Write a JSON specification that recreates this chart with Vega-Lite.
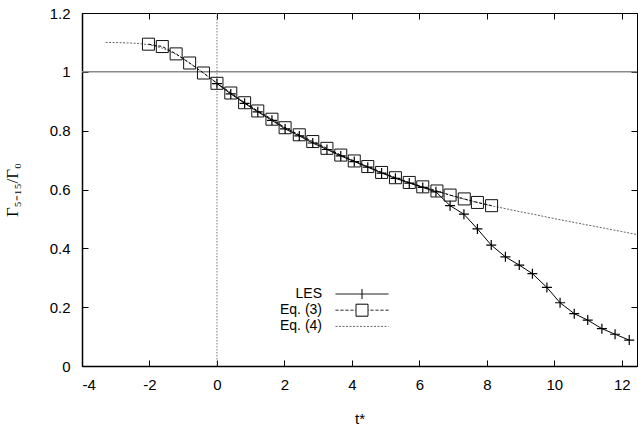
{
  "$schema": "https://vega.github.io/schema/vega-lite/v6.json",
  "width": 555,
  "height": 353,
  "autosize": "none",
  "padding": {"left": 82, "top": 13, "right": 1, "bottom": 67},
  "background": "white",
  "config": {
    "view": {"stroke": "#000", "strokeWidth": 1},
    "font": "Liberation Sans",
    "axis": {"grid": false, "domainColor": "#000", "tickColor": "#000", "labelColor": "#000", "titleColor": "#000", "labelFontSize": 15, "titleFontWeight": "normal", "labelFont": "Liberation Sans", "titleFont": "Liberation Sans", "labelExpr": "'' + datum.value"}
  },
  "datasets": {
    "curves": [
      {"series": "Eq. (4)", "t": -3.3, "v": 1.100},
      {"series": "Eq. (4)", "t": -2.8, "v": 1.099},
      {"series": "Eq. (4)", "t": -2.4, "v": 1.097},
      {"series": "Eq. (4)", "t": -2.0, "v": 1.092},
      {"series": "Eq. (4)", "t": -1.6, "v": 1.080},
      {"series": "Eq. (4)", "t": -1.2, "v": 1.059},
      {"series": "Eq. (4)", "t": -0.8, "v": 1.029},
      {"series": "Eq. (4)", "t": -0.4, "v": 0.996},
      {"series": "Eq. (4)", "t": 0.0, "v": 0.962},
      {"series": "Eq. (4)", "t": 0.4, "v": 0.929},
      {"series": "Eq. (4)", "t": 0.8, "v": 0.897},
      {"series": "Eq. (4)", "t": 1.2, "v": 0.867},
      {"series": "Eq. (4)", "t": 1.6, "v": 0.840},
      {"series": "Eq. (4)", "t": 2.0, "v": 0.812},
      {"series": "Eq. (4)", "t": 2.4, "v": 0.787},
      {"series": "Eq. (4)", "t": 2.8, "v": 0.764},
      {"series": "Eq. (4)", "t": 3.2, "v": 0.742},
      {"series": "Eq. (4)", "t": 3.6, "v": 0.720},
      {"series": "Eq. (4)", "t": 4.0, "v": 0.700},
      {"series": "Eq. (4)", "t": 4.4, "v": 0.681},
      {"series": "Eq. (4)", "t": 4.8, "v": 0.662},
      {"series": "Eq. (4)", "t": 5.2, "v": 0.644},
      {"series": "Eq. (4)", "t": 5.6, "v": 0.628},
      {"series": "Eq. (4)", "t": 6.0, "v": 0.612},
      {"series": "Eq. (4)", "t": 6.4, "v": 0.598},
      {"series": "Eq. (4)", "t": 6.8, "v": 0.584},
      {"series": "Eq. (4)", "t": 7.2, "v": 0.571},
      {"series": "Eq. (4)", "t": 7.6, "v": 0.559},
      {"series": "Eq. (4)", "t": 8.0, "v": 0.548},
      {"series": "Eq. (4)", "t": 8.5, "v": 0.536},
      {"series": "Eq. (4)", "t": 9.0, "v": 0.524},
      {"series": "Eq. (4)", "t": 9.5, "v": 0.513},
      {"series": "Eq. (4)", "t": 10.0, "v": 0.501},
      {"series": "Eq. (4)", "t": 10.5, "v": 0.490},
      {"series": "Eq. (4)", "t": 11.0, "v": 0.479},
      {"series": "Eq. (4)", "t": 11.5, "v": 0.468},
      {"series": "Eq. (4)", "t": 12.0, "v": 0.457},
      {"series": "Eq. (4)", "t": 12.45, "v": 0.447},
      {"series": "Eq. (3)", "t": -2.03, "v": 1.094},
      {"series": "Eq. (3)", "t": -1.62, "v": 1.086},
      {"series": "Eq. (3)", "t": -1.21, "v": 1.061},
      {"series": "Eq. (3)", "t": -0.81, "v": 1.030},
      {"series": "Eq. (3)", "t": -0.40, "v": 0.996},
      {"series": "Eq. (3)", "t": 0.00, "v": 0.961},
      {"series": "Eq. (3)", "t": 0.41, "v": 0.928},
      {"series": "Eq. (3)", "t": 0.82, "v": 0.895},
      {"series": "Eq. (3)", "t": 1.21, "v": 0.867},
      {"series": "Eq. (3)", "t": 1.63, "v": 0.839},
      {"series": "Eq. (3)", "t": 2.02, "v": 0.810},
      {"series": "Eq. (3)", "t": 2.44, "v": 0.786},
      {"series": "Eq. (3)", "t": 2.84, "v": 0.763},
      {"series": "Eq. (3)", "t": 3.26, "v": 0.740},
      {"series": "Eq. (3)", "t": 3.67, "v": 0.717},
      {"series": "Eq. (3)", "t": 4.07, "v": 0.697},
      {"series": "Eq. (3)", "t": 4.47, "v": 0.678},
      {"series": "Eq. (3)", "t": 4.88, "v": 0.658},
      {"series": "Eq. (3)", "t": 5.29, "v": 0.640},
      {"series": "Eq. (3)", "t": 5.70, "v": 0.624},
      {"series": "Eq. (3)", "t": 6.10, "v": 0.609},
      {"series": "Eq. (3)", "t": 6.52, "v": 0.595},
      {"series": "Eq. (3)", "t": 6.91, "v": 0.581},
      {"series": "Eq. (3)", "t": 7.33, "v": 0.568},
      {"series": "Eq. (3)", "t": 7.72, "v": 0.556},
      {"series": "Eq. (3)", "t": 8.14, "v": 0.545},
      {"series": "LES", "t": 0.00, "v": 0.960},
      {"series": "LES", "t": 0.41, "v": 0.925},
      {"series": "LES", "t": 0.82, "v": 0.893},
      {"series": "LES", "t": 1.21, "v": 0.864},
      {"series": "LES", "t": 1.63, "v": 0.835},
      {"series": "LES", "t": 2.02, "v": 0.806},
      {"series": "LES", "t": 2.44, "v": 0.782},
      {"series": "LES", "t": 2.84, "v": 0.758},
      {"series": "LES", "t": 3.26, "v": 0.736},
      {"series": "LES", "t": 3.67, "v": 0.714},
      {"series": "LES", "t": 4.07, "v": 0.695},
      {"series": "LES", "t": 4.47, "v": 0.676},
      {"series": "LES", "t": 4.88, "v": 0.656},
      {"series": "LES", "t": 5.29, "v": 0.638},
      {"series": "LES", "t": 5.70, "v": 0.622},
      {"series": "LES", "t": 6.10, "v": 0.607},
      {"series": "LES", "t": 6.49, "v": 0.592},
      {"series": "LES", "t": 6.91, "v": 0.545},
      {"series": "LES", "t": 7.32, "v": 0.516},
      {"series": "LES", "t": 7.72, "v": 0.466},
      {"series": "LES", "t": 8.13, "v": 0.411},
      {"series": "LES", "t": 8.55, "v": 0.371},
      {"series": "LES", "t": 8.96, "v": 0.343},
      {"series": "LES", "t": 9.35, "v": 0.314},
      {"series": "LES", "t": 9.78, "v": 0.267},
      {"series": "LES", "t": 10.17, "v": 0.215},
      {"series": "LES", "t": 10.59, "v": 0.178},
      {"series": "LES", "t": 10.99, "v": 0.156},
      {"series": "LES", "t": 11.41, "v": 0.127},
      {"series": "LES", "t": 11.80, "v": 0.108},
      {"series": "LES", "t": 12.22, "v": 0.088}
    ]
  },
  "resolve": {"axis": {"x": "independent", "y": "independent"}},
  "layer": [
    {
      "data": {"values": [{}]},
      "mark": {"type": "rule", "stroke": "#8a8a8a", "strokeWidth": 1.5},
      "encoding": {
        "y": {"datum": 1, "type": "quantitative", "scale": {"domain": [0, 1.2], "nice": false, "zero": false},
          "axis": {"orient": "right", "labels": false, "title": null, "domain": false, "tickSize": -6, "values": [0, 0.2, 0.4, 0.6, 0.8, 1, 1.2]}}
      }
    },
    {
      "data": {"values": [{}]},
      "mark": {"type": "rule", "stroke": "#777", "strokeWidth": 1, "strokeDash": [1.5, 1.5]},
      "encoding": {
        "x": {"datum": 0, "type": "quantitative", "scale": {"domain": [-4, 12.45], "nice": false, "zero": false},
          "axis": {"orient": "top", "labels": false, "title": null, "domain": false, "tickSize": -6, "values": [-4, -2, 0, 2, 4, 6, 8, 10, 12]}}
      }
    },
    {
      "data": {"name": "curves"},
      "transform": [{"filter": "datum.series === 'Eq. (4)'"}],
      "mark": {"type": "line", "stroke": "#666", "strokeWidth": 1, "strokeDash": [2, 1.5]},
      "encoding": {
        "x": {"field": "t", "type": "quantitative", "axis": null},
        "y": {"field": "v", "type": "quantitative", "axis": null}
      }
    },
    {
      "data": {"name": "curves"},
      "transform": [{"filter": "datum.series === 'Eq. (3)'"}],
      "mark": {"type": "line", "stroke": "#000", "strokeWidth": 1, "strokeDash": [3, 2]},
      "encoding": {
        "x": {"field": "t", "type": "quantitative", "axis": null},
        "y": {"field": "v", "type": "quantitative", "axis": null}
      }
    },
    {
      "data": {"name": "curves"},
      "transform": [{"filter": "datum.series === 'LES'"}],
      "mark": {"type": "line", "stroke": "#000", "strokeWidth": 1},
      "encoding": {
        "x": {"field": "t", "type": "quantitative", "axis": null},
        "y": {"field": "v", "type": "quantitative", "axis": null}
      }
    },
    {
      "data": {"name": "curves"},
      "transform": [{"filter": "datum.series === 'Eq. (3)'"}],
      "mark": {"type": "point", "shape": "square", "filled": false, "stroke": "#111", "strokeWidth": 1, "size": 144, "opacity": 1},
      "encoding": {
        "x": {"field": "t", "type": "quantitative", "axis": null},
        "y": {"field": "v", "type": "quantitative", "axis": null}
      }
    },
    {
      "data": {"name": "curves"},
      "transform": [{"filter": "datum.series === 'LES'"}],
      "mark": {"type": "point", "shape": "M-1,0H1M0,-1V1", "filled": false, "stroke": "#000", "strokeWidth": 1.2, "size": 100, "opacity": 1},
      "encoding": {
        "x": {"field": "t", "type": "quantitative",
          "axis": {"orient": "bottom", "title": "t*", "titleFontSize": 15, "titlePadding": 19, "tickSize": -6, "labelPadding": 17, "values": [-4, -2, 0, 2, 4, 6, 8, 10, 12], "domainWidth": 1.5}},
        "y": {"field": "v", "type": "quantitative",
          "axis": {"orient": "left", "title": "Γ₅₋₁₅/Γ₀", "titleFont": "Liberation Serif", "titleFontSize": 17, "titlePadding": 28, "tickSize": -6, "labelPadding": 18, "values": [0, 0.2, 0.4, 0.6, 0.8, 1, 1.2], "domainWidth": 1.5}}
      }
    },
    {
      "data": {"name": "curves"},
      "transform": [{"filter": "false"}],
      "mark": {"type": "point", "filled": false, "strokeWidth": 1, "opacity": 1},
      "encoding": {
        "x": {"field": "t", "type": "quantitative", "axis": null},
        "y": {"field": "v", "type": "quantitative", "axis": null},
        "shape": {"field": "series", "type": "nominal",
          "scale": {"domain": ["LES", "Eq. (3)", "Eq. (4)"], "range": ["M-5.3,0H5.3M0,-1V1", "M-5.3,0H-4.7M-4.3,0H-3.7M-3.3,0H-2.7M-2.3,0H-1.7M-1.3,0H-1.2M1.2,0H1.3M1.7,0H2.3M2.7,0H3.3M3.7,0H4.3M4.7,0H5.3M-1.2,-1.2H1.2V1.2H-1.2Z", "M-5.3,0H5.3"]},
          "legend": {
            "title": null,
            "orient": "none",
            "legendX": 273,
            "legendY": 274,
            "padding": 0,
            "labelFontSize": 14,
            "labelFont": "Liberation Sans",
            "labelColor": "#000",
            "labelAlign": "right",
            "labelOffset": -47,
            "symbolOffset": 0,
            "symbolSize": 100,
            "symbolStrokeWidth": 1,
            "rowPadding": 1.2
          }
        },
        "strokeDash": {"field": "series", "type": "nominal",
          "scale": {"domain": ["LES", "Eq. (3)", "Eq. (4)"], "range": [[1, 0], [1, 0], [2, 1.5]]}},
        "stroke": {"field": "series", "type": "nominal",
          "scale": {"domain": ["LES", "Eq. (3)", "Eq. (4)"], "range": ["#000", "#000", "#666"]}}
      }
    }
  ]
}
